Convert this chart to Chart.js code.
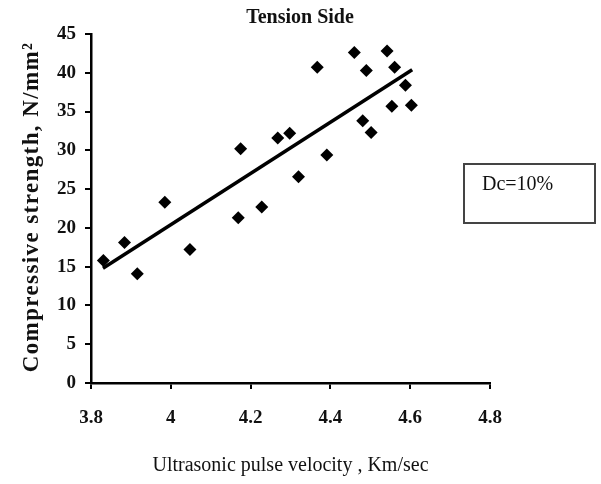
<!DOCTYPE html>
<html>
<head>
<meta charset="utf-8">
<script src="https://cdn.jsdelivr.net/npm/chart.js@4.4.1/dist/chart.umd.min.js"></script>
<style>
  html, body { margin: 0; padding: 0; background: #ffffff; }
  #wrap { position: relative; width: 601px; height: 484px; }
</style>
</head>
<body>
<div id="wrap"><canvas id="c" width="601" height="484"></canvas></div>
<script>
// ---- data ----
const velocity = [3.831, 3.884, 3.916, 3.985, 4.048, 4.169, 4.175, 4.228, 4.268, 4.298, 4.320,
                  4.367, 4.391, 4.460, 4.481, 4.490, 4.502, 4.542, 4.554, 4.561, 4.588, 4.603];
const strength = [15.8, 18.1, 14.1, 23.3, 17.2, 21.3, 30.2, 22.7, 31.6, 32.2, 26.6,
                  40.7, 29.4, 42.6, 33.8, 40.3, 32.3, 42.8, 35.7, 40.7, 38.4, 35.8];
const trendVelocity = [3.83, 4.605];
const trendStrength = [14.8, 40.4];
const chartTitle = "Tension Side";
const xTitle = "Ultrasonic pulse velocity , Km/sec";
const yTitle = "Compressive strength, N/mm\u00B2";
const boxLabel = "Dc=10%";

const serif = "'Liberation Serif', 'Times New Roman', serif";

// draws the title, the rotated y-axis title and the Dc box
const textPlugin = {
  id: 'textBits',
  afterDraw(chart) {
    const ctx = chart.ctx;
    ctx.save();
    // chart title, centred on the canvas like the reference
    ctx.fillStyle = '#111';
    ctx.font = 'bold 20px ' + serif;
    ctx.textAlign = 'center';
    ctx.textBaseline = 'middle';
    ctx.fillText(chartTitle, 300, 18);

    // y axis title
    ctx.save();
    ctx.translate(32, 207);
    ctx.rotate(-Math.PI / 2);
    ctx.font = 'bold 23px ' + serif;
    ctx.letterSpacing = '1.4px';
    ctx.textAlign = 'center';
    ctx.textBaseline = 'middle';
    ctx.fillText(yTitle, 0, 0);
    ctx.restore();

    // Dc box
    ctx.strokeStyle = '#444';
    ctx.lineWidth = 2;
    ctx.strokeRect(464, 164, 131, 59);
    ctx.fillStyle = '#111';
    ctx.font = '20px ' + serif;
    ctx.textBaseline = 'middle';
    ctx.textAlign = 'left';
    ctx.fillText(boxLabel, 482, 185);
    ctx.restore();
  }
};

new Chart(document.getElementById('c'), {
  type: 'scatter',
  data: {
    datasets: [
      {
        label: 'points',
        data: velocity.map((v, i) => ({ x: v, y: strength[i] })),
        pointStyle: 'rectRot',
        pointRadius: 6.5,
        backgroundColor: '#000',
        borderColor: '#000',
        borderWidth: 0
      },
      {
        type: 'line',
        label: 'trend',
        data: trendVelocity.map((v, i) => ({ x: v, y: trendStrength[i] })),
        borderColor: '#000',
        borderWidth: 3.5,
        pointRadius: 0,
        fill: false
      }
    ]
  },
  options: {
    responsive: false,
    devicePixelRatio: 1,
    animation: false,
    layout: { padding: { left: 0, right: 111, top: 34, bottom: 0 } },
    plugins: {
      legend: { display: false },
      tooltip: { enabled: false },
      title: { display: false }
    },
    scales: {
      x: {
        type: 'linear',
        min: 3.8,
        max: 4.8,
        afterFit(s) { s.height = 101; },
        ticks: {
          stepSize: 0.2,
          color: '#111',
          padding: 18,
          font: { family: serif, size: 19, weight: 'bold' },
          callback: v => Number(Number(v).toFixed(1)).toString()
        },
        grid: { drawOnChartArea: false, drawTicks: true, tickLength: 6, color: '#000', lineWidth: 2 },
        border: { display: true, color: '#000', width: 2.5 },
        title: {
          display: true,
          text: xTitle,
          color: '#111',
          font: { family: serif, size: 20, lineHeight: 1.2 },
          padding: { top: 0, bottom: 6 }
        }
      },
      y: {
        type: 'linear',
        min: 0,
        max: 45,
        afterFit(s) { s.width = 91; },
        ticks: {
          stepSize: 5,
          color: '#111',
          padding: 9,
          font: { family: serif, size: 19, weight: 'bold' }
        },
        grid: { drawOnChartArea: false, drawTicks: true, tickLength: 6, color: '#000', lineWidth: 2 },
        border: { display: true, color: '#000', width: 2.5 },
        title: { display: false }
      }
    }
  },
  plugins: [textPlugin]
});
</script>
</body>
</html>
